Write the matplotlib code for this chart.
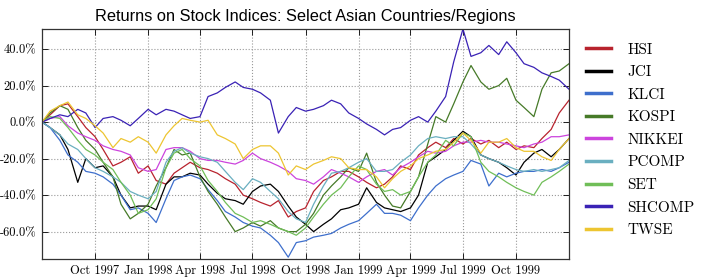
#!/usr/bin/env python
"""
Returns on stock indices for select Asian countries/regions,
Jul 1997 - Dec 1999 (values read off the reference chart, in percent).
"""

import pandas as pd
import matplotlib
matplotlib.use('Agg')
import matplotlib.pyplot as plt
from matplotlib.ticker import FuncFormatter

plt.rcParams['axes.unicode_minus'] = False

# semi-monthly sample dates (1st and 15th of each month)
dates = pd.date_range('1997-07-01', periods=61, freq='SMS')

hsi = [0, 4, 9, 10, 3, -3, -8, -15, -24, -22, -19, -28, -24, -32, -34, -28,
       -25, -22, -25, -26, -28, -31, -34, -40, -42, -44, -46, -43, -52, -49,
       -47, -38, -32, -30, -27, -27, -30, -33, -36, -34, -30, -24, -26, -18,
       -14, -11, -14, -9, -12, -9, -12, -10, -14, -11, -15, -13, -14, -9, -4,
       5, 12]
jci = [0, -3, -7, -15, -33, -20, -25, -24, -30, -40, -47, -46, -46, -48, -34,
       -30, -30, -28, -29, -34, -39, -42, -43, -45, -38, -35, -34, -38, -46,
       -52, -56, -60, -56, -53, -48, -47, -45, -36, -44, -47, -48, -49, -47,
       -40, -22, -19, -15, -10, -5, -8, -18, -20, -22, -25, -29, -22, -17,
       -15, -19, -15, -9]
klci = [0, -3, -10, -18, -22, -27, -28, -30, -34, -40, -48, -47, -50, -55,
        -42, -32, -30, -29, -31, -37, -43, -49, -52, -55, -57, -58, -62, -66,
        -74, -66, -65, -63, -62, -61, -58, -56, -54, -50, -45, -50, -50, -51,
        -54, -47, -40, -35, -31, -29, -27, -21, -23, -35, -28, -30, -28, -27,
        -27, -26, -27, -25, -22]
kospi = [0, 5, 9, 7, -3, -10, -15, -22, -30, -45, -53, -50, -45, -35, -25,
         -15, -18, -17, -30, -38, -45, -52, -60, -58, -55, -57, -54, -58, -60,
         -60, -56, -50, -40, -35, -30, -25, -27, -17, -33, -40, -46, -47, -38,
         -30, -12, 3, 0, 10, 22, 31, 22, 18, 20, 24, 12, 8, 3, 18, 27, 28, 32]
nikkei = [0, 2, 3, -2, -6, -8, -10, -13, -15, -16, -18, -25, -27, -26, -15,
          -14, -14, -16, -20, -21, -21, -22, -23, -21, -17, -20, -22, -24, -27,
          -31, -32, -34, -30, -26, -28, -30, -33, -30, -27, -26, -29, -25, -22,
          -19, -16, -17, -16, -13, -11, -11, -10, -11, -11, -12, -13, -14, -12,
          -11, -8, -8, -7]
pcomp = [0, -3, -7, -12, -15, -20, -25, -27, -30, -33, -38, -40, -42, -38, -22,
         -16, -14, -17, -19, -20, -22, -27, -33, -37, -31, -33, -38, -42, -49,
         -53, -55, -45, -35, -28, -27, -25, -22, -20, -27, -27, -26, -22, -18,
         -13, -9, -8, -9, -8, -8, -12, -18, -20, -22, -24, -26, -27, -26, -27,
         -26, -25, -21]
set_idx = [0, 3, 2, -3, -10, -15, -18, -22, -26, -33, -40, -50, -48, -42, -25,
           -17, -15, -20, -24, -32, -38, -44, -50, -52, -55, -54, -56, -58, -60,
           -62, -58, -52, -45, -40, -36, -30, -24, -26, -34, -38, -37, -40, -38,
           -30, -22, -18, -10, -13, -6, -8, -22, -27, -30, -33, -36, -38, -40,
           -33, -30, -27, -23]
shcomp = [0, 2, 4, 3, 7, 5, -3, 2, 3, 1, -2, 2, 7, 4, 7, 6, 4, 2, 3, 14, 16,
          19, 22, 19, 18, 16, 12, -6, 3, 8, 6, 7, 9, 12, 10, 5, 2, -1, -4, -7,
          -4, -3, 1, 3, 0, 6, 14, 33, 51, 36, 38, 42, 37, 44, 38, 32, 30, 27,
          25, 23, 18]
twse = [0, 6, 9, 11, 4, 2, -2, -6, -14, -9, -11, -8, -11, -17, -7, -2, 2, 1, 0,
        1, -7, -9, -12, -20, -15, -13, -13, -17, -29, -24, -26, -23, -21, -19,
        -20, -25, -26, -26, -30, -36, -31, -27, -24, -20, -18, -16, -15, -11,
        -6, -10, -17, -11, -11, -9, -14, -16, -16, -19, -21, -15, -9]

names = ['HSI', 'JCI', 'KLCI', 'KOSPI', 'NIKKEI', 'PCOMP', 'SET', 'SHCOMP',
         'TWSE']
series = [hsi, jci, klci, kospi, nikkei, pcomp, set_idx, shcomp, twse]
colors = ['#B8232E', '#000000', '#3E6FCC', '#467A28', '#CC44DD', '#6AAFC0',
          '#70BE58', '#3A22B5', '#EDC531']

tick_dates = pd.date_range('1997-10-01', '1999-10-01', freq='QS-OCT')

fig = plt.figure(figsize=(7.06, 2.79), dpi=100)
ax = fig.add_axes([0.0595, 0.0717, 0.7465, 0.8243])

for name, vals, c in zip(names, series, colors):
    ax.plot(dates, vals, color=c, lw=0.9, label=name)

ax.set_xlim(dates[0], dates[-1])
ax.set_ylim(-75, 51)
ax.set_yticks([-60, -40, -20, 0, 20, 40])
ax.yaxis.set_major_formatter(FuncFormatter(lambda v, p: '%.1f%%' % v))
ax.set_xticks(tick_dates)
ax.set_xticklabels([d.strftime('%b %Y') for d in tick_dates])

for lab in ax.get_xticklabels() + ax.get_yticklabels():
    lab.set_family('cmr10')
    lab.set_fontsize(9)

ax.tick_params(direction='in', top=True, right=True, length=4, width=0.6,
               pad=4)
ax.grid(True, color='#999999', linestyle=':', linewidth=0.8)
for s in ax.spines.values():
    s.set_color('#333333')
    s.set_linewidth(0.9)

ax.set_title('Returns on Stock Indices: Select Asian Countries/Regions',
             family='Liberation Sans', fontsize=11.8, pad=6)

leg = ax.legend(loc='upper left', bbox_to_anchor=(1.015, 0.98), frameon=False,
                prop={'family': 'cmr10', 'size': 11}, handlelength=1.6,
                labelspacing=0.58, handletextpad=1.1, borderaxespad=0.2)
for line in leg.get_lines():
    line.set_linewidth(2.5)

fig.savefig('out.png', dpi=100)
